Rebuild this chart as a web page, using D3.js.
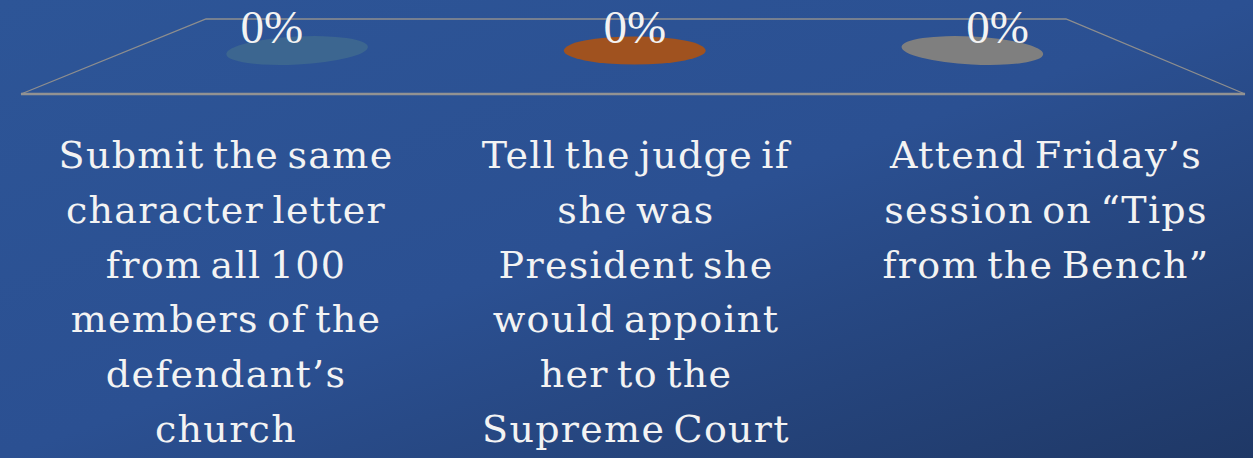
<!DOCTYPE html>
<html>
<head>
<meta charset="utf-8">
<title>Poll</title>
<script src="https://d3js.org/d3.v7.min.js"></script>
<style>
  html, body { margin: 0; padding: 0; overflow: hidden; }
  body { width: 1253px; height: 458px; }
  text { font-family: "DejaVu Serif", "Liberation Serif", serif; fill: #f3f3f3; }
</style>
</head>
<body>
<div id="viz"></div>
<script>

// data
var categories = [
  ["Submit the same", "character letter", "from all 100", "members of the", "defendant\u2019s", "church"],
  ["Tell the judge if", "she was", "President she", "would appoint", "her to the", "Supreme Court"],
  ["Attend Friday\u2019s", "session on \u201cTips", "from the Bench\u201d"]
];
var values = [0, 0, 0];
var valueLabels = ["0%", "0%", "0%"];
var colors = ["#3c6690", "#a0521f", "#7f7f7f"];

var width = 1253, height = 458;

var svg = d3.select("#viz").append("svg")
  .attr("width", width)
  .attr("height", height);

// background gradient
var defs = svg.append("defs");
var grad = defs.append("linearGradient")
  .attr("id", "bg")
  .attr("x1", "0%").attr("y1", "0%")
  .attr("x2", "100%").attr("y2", "100%");
grad.append("stop").attr("offset", "0%").attr("stop-color", "#2d5597");
grad.append("stop").attr("offset", "50%").attr("stop-color", "#2b5092");
grad.append("stop").attr("offset", "100%").attr("stop-color", "#1f3866");

svg.append("rect")
  .attr("width", width).attr("height", height)
  .attr("fill", "url(#bg)");

// floor in perspective: back edge and front edge
var back = {y: 19, x0: 206, x1: 1066},
    front = {y: 94, x0: 21, x1: 1245};

// depth t: 0 = back, 1 = front
var depthY = d3.scaleLinear().domain([0, 1]).range([back.y, front.y]);
function floorX(t, u) {
  var x0 = back.x0 + (front.x0 - back.x0) * t,
      x1 = back.x1 + (front.x1 - back.x1) * t;
  return x0 + (x1 - x0) * u;
}

var band = d3.scaleBand().domain(d3.range(categories.length)).range([0, 1])
  .paddingInner(0.58).paddingOuter(0.29);

svg.append("path")
  .attr("d", "M" + [back.x0, back.y] + "L" + [back.x1, back.y] + "L" + [front.x1, front.y] + "L" + [front.x0, front.y] + "Z")
  .attr("fill", "none")
  .attr("stroke", "#8e8e8e")
  .attr("stroke-width", 1.3);
svg.append("line")
  .attr("x1", front.x0).attr("x2", front.x1)
  .attr("y1", front.y).attr("y2", front.y)
  .attr("stroke", "#929292")
  .attr("stroke-width", 2.6);

// value scale (bar heights)
var y = d3.scaleLinear().domain([0, 1]).range([0, 60]);

var tMid = 0.42;
var cy = depthY(tMid);
var midX = floorX(tMid, 0.5);

var bars = svg.selectAll(".bar").data(values).enter().append("g").attr("class", "bar");

bars.each(function(d, i) {
  var g = d3.select(this);
  var cx = floorX(tMid, band(i) + band.bandwidth() / 2);
  var rx = (floorX(tMid, band(i) + band.bandwidth()) - floorX(tMid, band(i))) / 2;
  var rot = (cx - midX) * 0.009;
  var h = y(d);
  g.append("ellipse")
    .attr("cx", cx).attr("cy", cy - h)
    .attr("rx", rx).attr("ry", 14)
    .attr("transform", "rotate(" + rot + "," + cx + "," + (cy - h) + ")")
    .attr("fill", colors[i]);
  // labels drift outward like the 3D view
  g.append("text")
    .attr("x", cx + (cx - midX) * 0.075)
    .attr("y", cy - h - 8)
    .attr("text-anchor", "middle")
    .style("font-size", "47px")
    .style("font-family", "'Liberation Serif', serif")
    .text(valueLabels[i]);
});

// category labels
var xLab = d3.scaleBand().domain(d3.range(categories.length)).range([20, 1250]);
var lineH = 54.8;

categories.forEach(function(lines, i) {
  var t = svg.append("text")
    .attr("text-anchor", "middle")
    .style("font-size", "38px")
    .style("letter-spacing", "1.3px")
    .style("word-spacing", "-5px");
  lines.forEach(function(s, k) {
    t.append("tspan")
      .attr("x", xLab(i) + xLab.bandwidth() / 2 + 1)
      .attr("y", 168 + k * lineH)
      .text(s);
  });
});

</script>
</body>
</html>
